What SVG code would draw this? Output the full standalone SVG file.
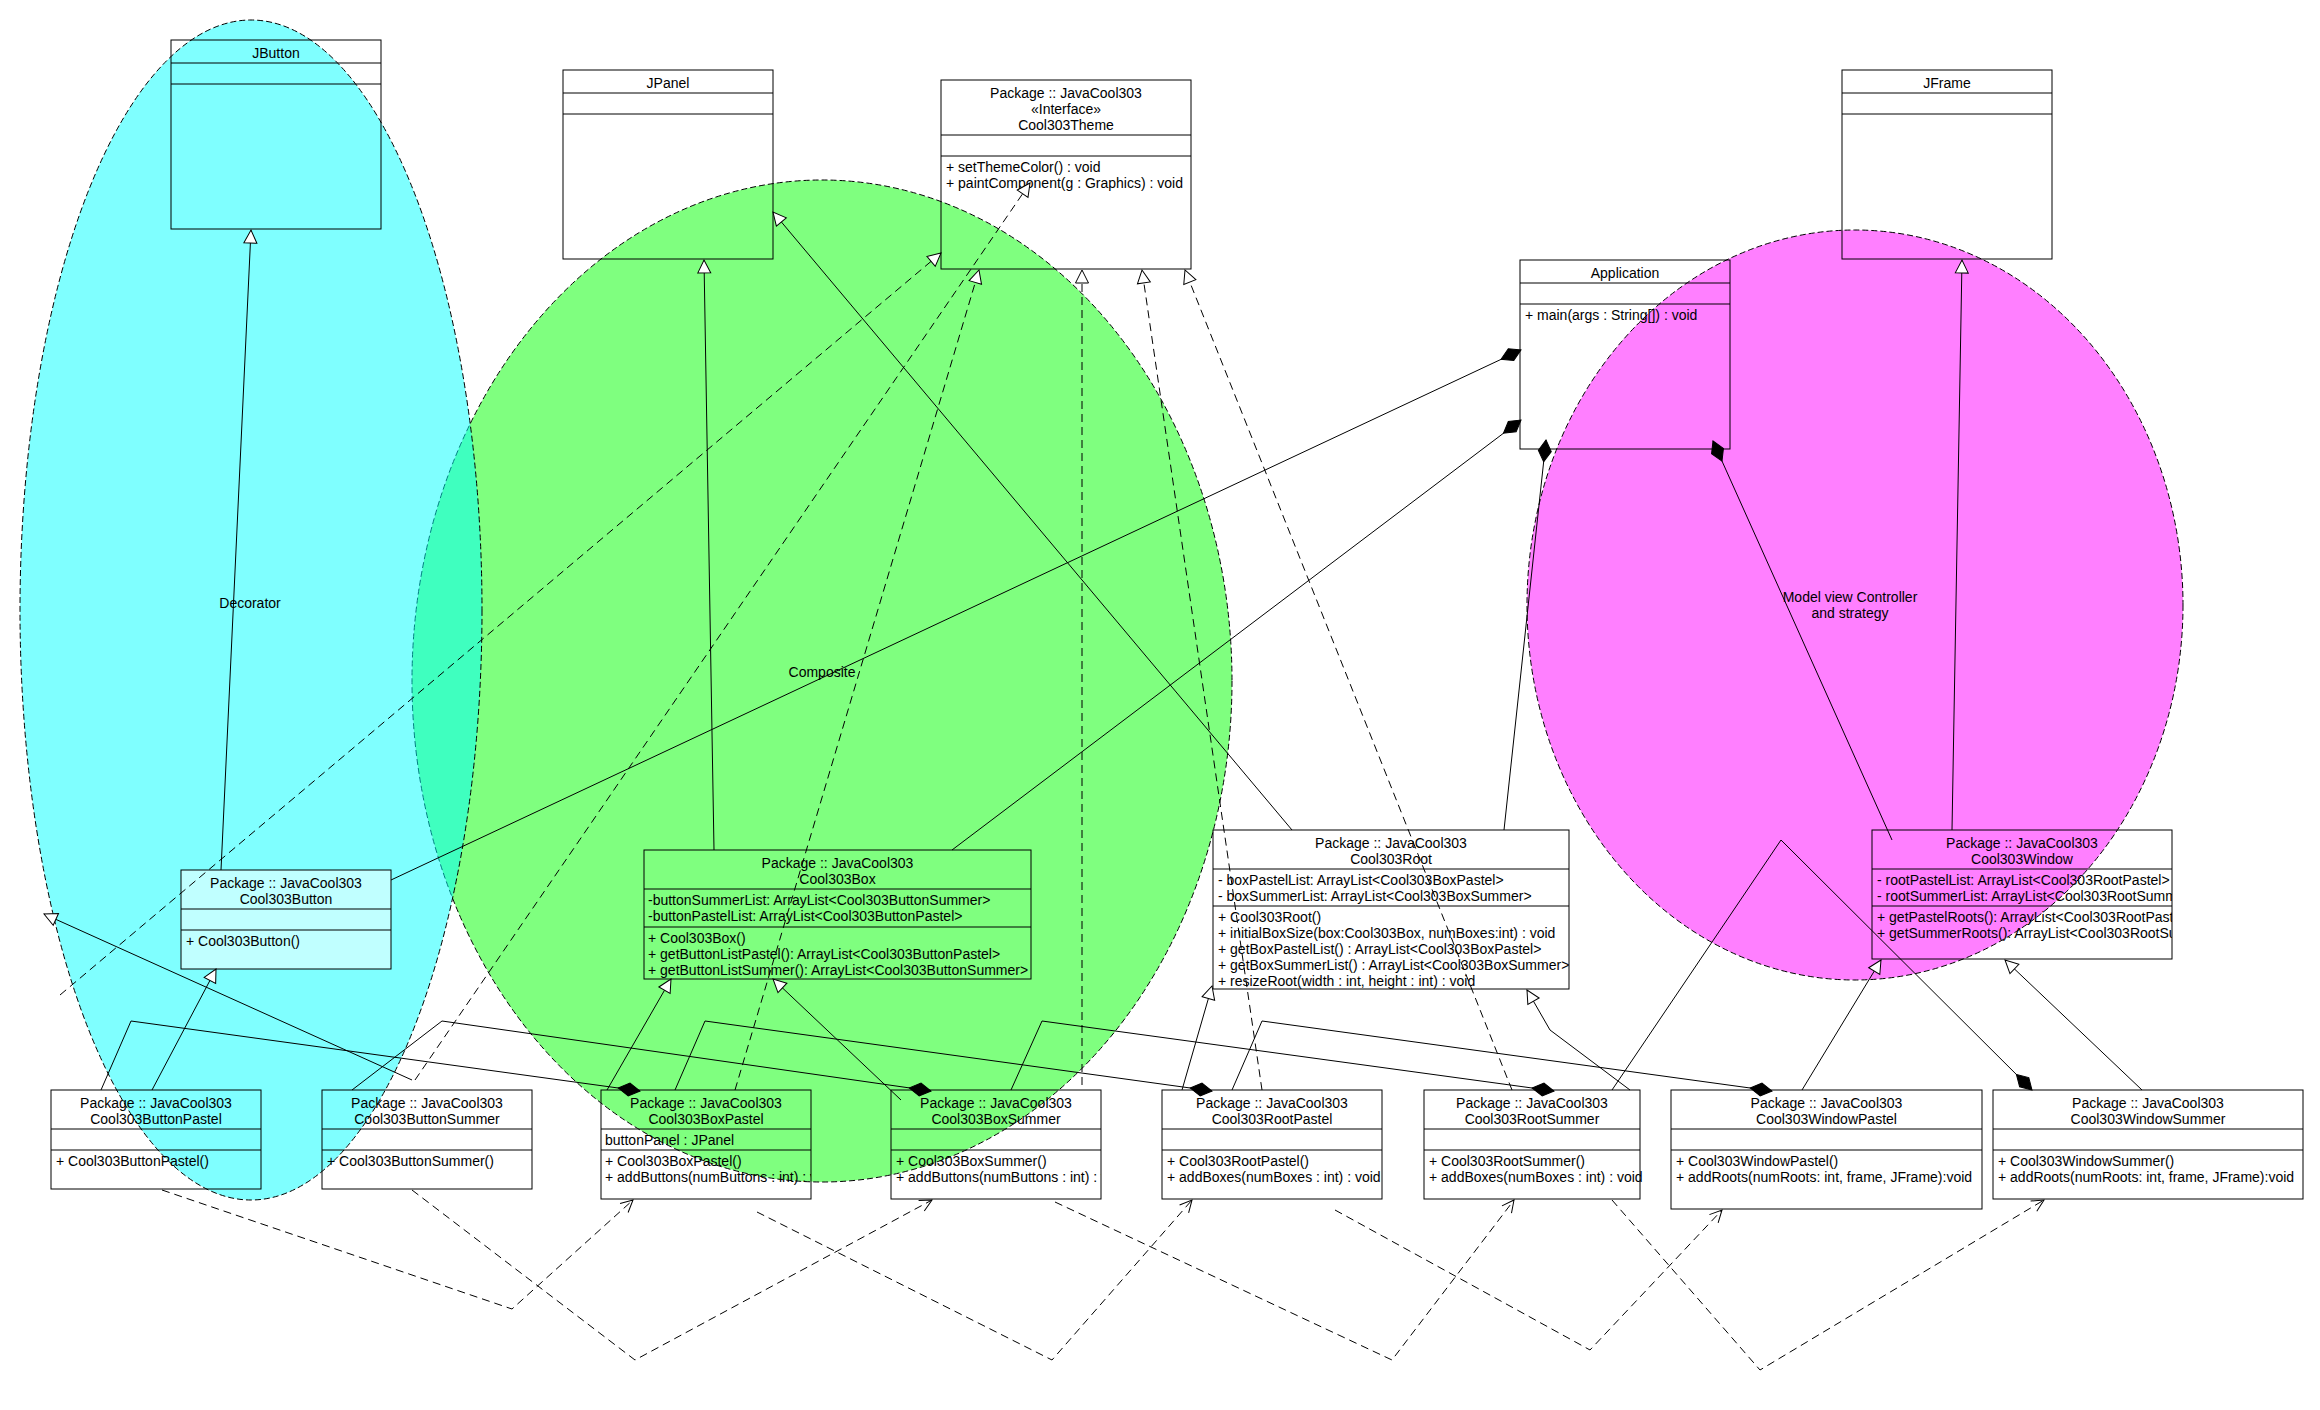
<svg xmlns="http://www.w3.org/2000/svg" width="2320" height="1410" viewBox="0 0 2320 1410">
<style>
.box{fill:none;stroke:#000;stroke-width:1}
.div{stroke:#000;stroke-width:1}
.t{font-family:"Liberation Sans",Arial,sans-serif;font-size:14px;fill:#000}
.c{text-anchor:middle}
.solid{fill:none;stroke:#000;stroke-width:1}
.dash{fill:none;stroke:#000;stroke-width:1;stroke-dasharray:8 5}
.ell{stroke:#000;stroke-width:1;stroke-dasharray:6 3;fill-opacity:0.5}
</style>
<defs>
<marker id="tri" markerUnits="userSpaceOnUse" markerWidth="14" markerHeight="14" refX="13" refY="6.5" orient="auto" overflow="visible">
<path d="M0,0 L13,6.5 L0,13 Z" fill="#fff" stroke="#000" stroke-width="1" stroke-dasharray="none"/>
</marker>
<marker id="dia" markerUnits="userSpaceOnUse" markerWidth="24" markerHeight="14" refX="22" refY="6.5" orient="auto" overflow="visible">
<path d="M0,6.5 L11,0 L22,6.5 L11,13 Z" fill="#000" stroke="#000" stroke-width="1" stroke-dasharray="none"/>
</marker>
<marker id="open" markerUnits="userSpaceOnUse" markerWidth="14" markerHeight="14" refX="12" refY="6" orient="auto" overflow="visible">
<path d="M0,0 L12,6 L0,12" fill="none" stroke="#000" stroke-width="1" stroke-dasharray="none"/>
</marker>
<clipPath id="cpBoxPastel"><rect x="601" y="1090" width="210" height="109"/></clipPath>
<clipPath id="cpBoxSummer"><rect x="891" y="1090" width="210" height="109"/></clipPath>
<clipPath id="cpWindow"><rect x="1872" y="830" width="300" height="129"/></clipPath>
<clipPath id="cpRoot"><rect x="1213" y="830" width="356" height="159"/></clipPath>
</defs>
<rect x="0" y="0" width="2320" height="1410" fill="#fff"/>
<g id="groups">
<ellipse id="composite-area" class="ell" cx="822" cy="681" rx="410" ry="501" fill="#00ff00"/>
<ellipse id="decorator-area" class="ell" cx="251" cy="610" rx="231" ry="590" fill="#00ffff"/>
<ellipse id="mvc-area" class="ell" cx="1855" cy="605" rx="328" ry="375" fill="#ff00ff"/>
</g>
<g id="n-JButton">
<rect class="box" x="171" y="40" width="210" height="189"/>
<line class="div" x1="171" y1="63" x2="381" y2="63"/><line class="div" x1="171" y1="84" x2="381" y2="84"/>
<text class="t c" x="276" y="58">JButton</text>
</g>
<g id="n-JPanel">
<rect class="box" x="563" y="70" width="210" height="189"/>
<line class="div" x1="563" y1="93" x2="773" y2="93"/><line class="div" x1="563" y1="114" x2="773" y2="114"/>
<text class="t c" x="668" y="88">JPanel</text>
</g>
<g id="n-Cool303Theme">
<rect class="box" x="941" y="80" width="250" height="189"/>
<line class="div" x1="941" y1="135" x2="1191" y2="135"/><line class="div" x1="941" y1="156" x2="1191" y2="156"/>
<text class="t c" x="1066" y="98">Package :: JavaCool303</text>
<text class="t c" x="1066" y="114">«Interface»</text>
<text class="t c" x="1066" y="130">Cool303Theme</text>
<text class="t" x="946" y="172">+ setThemeColor() : void</text>
<text class="t" x="946" y="188">+ paintComponent(g : Graphics) : void</text>
</g>
<g id="n-Application">
<rect class="box" x="1520" y="260" width="210" height="189"/>
<line class="div" x1="1520" y1="283" x2="1730" y2="283"/><line class="div" x1="1520" y1="304" x2="1730" y2="304"/>
<text class="t c" x="1625" y="278">Application</text>
<text class="t" x="1525" y="320">+ main(args : String[]) : void</text>
</g>
<g id="n-JFrame">
<rect class="box" x="1842" y="70" width="210" height="189"/>
<line class="div" x1="1842" y1="93" x2="2052" y2="93"/><line class="div" x1="1842" y1="114" x2="2052" y2="114"/>
<text class="t c" x="1947" y="88">JFrame</text>
</g>
<g id="n-Cool303Button">
<rect class="box" x="181" y="870" width="210" height="99" style="fill:#c0ffff"/>
<line class="div" x1="181" y1="909" x2="391" y2="909"/><line class="div" x1="181" y1="930" x2="391" y2="930"/>
<text class="t c" x="286" y="888">Package :: JavaCool303</text>
<text class="t c" x="286" y="904">Cool303Button</text>
<text class="t" x="186" y="946">+ Cool303Button()</text>
</g>
<g id="n-Cool303Box">
<rect class="box" x="644" y="850" width="387" height="129"/>
<line class="div" x1="644" y1="889" x2="1031" y2="889"/><line class="div" x1="644" y1="927" x2="1031" y2="927"/>
<text class="t c" x="837.5" y="868">Package :: JavaCool303</text>
<text class="t c" x="837.5" y="884">Cool303Box</text>
<text class="t" x="648" y="905">-buttonSummerList: ArrayList&lt;Cool303ButtonSummer&gt;</text>
<text class="t" x="648" y="921">-buttonPastelList: ArrayList&lt;Cool303ButtonPastel&gt;</text>
<text class="t" x="648" y="943">+ Cool303Box()</text>
<text class="t" x="648" y="959">+ getButtonListPastel(): ArrayList&lt;Cool303ButtonPastel&gt;</text>
<text class="t" x="648" y="975">+ getButtonListSummer(): ArrayList&lt;Cool303ButtonSummer&gt;</text>
</g>
<g id="n-Cool303Root">
<rect class="box" x="1213" y="830" width="356" height="159"/>
<line class="div" x1="1213" y1="869" x2="1569" y2="869"/><line class="div" x1="1213" y1="906" x2="1569" y2="906"/>
<text class="t c" x="1391" y="848">Package :: JavaCool303</text>
<text class="t c" x="1391" y="864">Cool303Root</text>
<g clip-path="url(#cpRoot)">
<text class="t" x="1218" y="885">- boxPastelList: ArrayList&lt;Cool303BoxPastel&gt;</text>
<text class="t" x="1218" y="901">- boxSummerList: ArrayList&lt;Cool303BoxSummer&gt;</text>
<text class="t" x="1218" y="922">+ Cool303Root()</text>
<text class="t" x="1218" y="938">+ initialBoxSize(box:Cool303Box, numBoxes:int) : void</text>
<text class="t" x="1218" y="954">+ getBoxPastelList() : ArrayList&lt;Cool303BoxPastel&gt;</text>
<text class="t" x="1218" y="970">+ getBoxSummerList() : ArrayList&lt;Cool303BoxSummer&gt;</text>
<text class="t" x="1218" y="986">+ resizeRoot(width : int, height : int) : void</text>
</g>
</g>
<g id="n-Cool303Window">
<rect class="box" x="1872" y="830" width="300" height="129"/>
<line class="div" x1="1872" y1="869" x2="2172" y2="869"/><line class="div" x1="1872" y1="906" x2="2172" y2="906"/>
<text class="t c" x="2022" y="848">Package :: JavaCool303</text>
<text class="t c" x="2022" y="864">Cool303Window</text>
<g clip-path="url(#cpWindow)">
<text class="t" x="1877" y="885">- rootPastelList: ArrayList&lt;Cool303RootPastel&gt;</text>
<text class="t" x="1877" y="901">- rootSummerList: ArrayList&lt;Cool303RootSummer&gt;</text>
<text class="t" x="1877" y="922">+ getPastelRoots(): ArrayList&lt;Cool303RootPastel&gt;</text>
<text class="t" x="1877" y="938">+ getSummerRoots(): ArrayList&lt;Cool303RootSummer&gt;</text>
</g>
</g>
<g id="n-Cool303ButtonPastel">
<rect class="box" x="51" y="1090" width="210" height="99"/>
<line class="div" x1="51" y1="1129" x2="261" y2="1129"/><line class="div" x1="51" y1="1150" x2="261" y2="1150"/>
<text class="t c" x="156" y="1108">Package :: JavaCool303</text>
<text class="t c" x="156" y="1124">Cool303ButtonPastel</text>
<text class="t" x="56" y="1166">+ Cool303ButtonPastel()</text>
</g>
<g id="n-Cool303ButtonSummer">
<rect class="box" x="322" y="1090" width="210" height="99"/>
<line class="div" x1="322" y1="1129" x2="532" y2="1129"/><line class="div" x1="322" y1="1150" x2="532" y2="1150"/>
<text class="t c" x="427" y="1108">Package :: JavaCool303</text>
<text class="t c" x="427" y="1124">Cool303ButtonSummer</text>
<text class="t" x="327" y="1166">+ Cool303ButtonSummer()</text>
</g>
<g id="n-Cool303BoxPastel">
<rect class="box" x="601" y="1090" width="210" height="109"/>
<line class="div" x1="601" y1="1129" x2="811" y2="1129"/><line class="div" x1="601" y1="1150" x2="811" y2="1150"/>
<text class="t c" x="706" y="1108">Package :: JavaCool303</text>
<text class="t c" x="706" y="1124">Cool303BoxPastel</text>
<g clip-path="url(#cpBoxPastel)">
<text class="t" x="605" y="1145">buttonPanel : JPanel</text>
<text class="t" x="605" y="1166">+ Cool303BoxPastel()</text>
<text class="t" x="605" y="1182">+ addButtons(numButtons : int) : void</text>
</g>
</g>
<g id="n-Cool303BoxSummer">
<rect class="box" x="891" y="1090" width="210" height="109"/>
<line class="div" x1="891" y1="1129" x2="1101" y2="1129"/><line class="div" x1="891" y1="1150" x2="1101" y2="1150"/>
<text class="t c" x="996" y="1108">Package :: JavaCool303</text>
<text class="t c" x="996" y="1124">Cool303BoxSummer</text>
<g clip-path="url(#cpBoxSummer)">
<text class="t" x="896" y="1166">+ Cool303BoxSummer()</text>
<text class="t" x="896" y="1182">+ addButtons(numButtons : int) : void</text>
</g>
</g>
<g id="n-Cool303RootPastel">
<rect class="box" x="1162" y="1090" width="220" height="109"/>
<line class="div" x1="1162" y1="1129" x2="1382" y2="1129"/><line class="div" x1="1162" y1="1150" x2="1382" y2="1150"/>
<text class="t c" x="1272" y="1108">Package :: JavaCool303</text>
<text class="t c" x="1272" y="1124">Cool303RootPastel</text>
<text class="t" x="1167" y="1166">+ Cool303RootPastel()</text>
<text class="t" x="1167" y="1182">+ addBoxes(numBoxes : int) : void</text>
</g>
<g id="n-Cool303RootSummer">
<rect class="box" x="1424" y="1090" width="216" height="109"/>
<line class="div" x1="1424" y1="1129" x2="1640" y2="1129"/><line class="div" x1="1424" y1="1150" x2="1640" y2="1150"/>
<text class="t c" x="1532" y="1108">Package :: JavaCool303</text>
<text class="t c" x="1532" y="1124">Cool303RootSummer</text>
<text class="t" x="1429" y="1166">+ Cool303RootSummer()</text>
<text class="t" x="1429" y="1182">+ addBoxes(numBoxes : int) : void</text>
</g>
<g id="n-Cool303WindowPastel">
<rect class="box" x="1671" y="1090" width="311" height="119"/>
<line class="div" x1="1671" y1="1129" x2="1982" y2="1129"/><line class="div" x1="1671" y1="1150" x2="1982" y2="1150"/>
<text class="t c" x="1826.5" y="1108">Package :: JavaCool303</text>
<text class="t c" x="1826.5" y="1124">Cool303WindowPastel</text>
<text class="t" x="1676" y="1166">+ Cool303WindowPastel()</text>
<text class="t" x="1676" y="1182">+ addRoots(numRoots: int, frame, JFrame):void</text>
</g>
<g id="n-Cool303WindowSummer">
<rect class="box" x="1993" y="1090" width="310" height="109"/>
<line class="div" x1="1993" y1="1129" x2="2303" y2="1129"/><line class="div" x1="1993" y1="1150" x2="2303" y2="1150"/>
<text class="t c" x="2148" y="1108">Package :: JavaCool303</text>
<text class="t c" x="2148" y="1124">Cool303WindowSummer</text>
<text class="t" x="1998" y="1166">+ Cool303WindowSummer()</text>
<text class="t" x="1998" y="1182">+ addRoots(numRoots: int, frame, JFrame):void</text>
</g>
<g id="connectors">
<path class="solid" marker-end="url(#tri)" d="M221,870 L251,230"/>
<path class="solid" marker-end="url(#tri)" d="M714,850 L704,260"/>
<path class="solid" marker-end="url(#tri)" d="M1292,830 L773,212"/>
<path class="solid" marker-end="url(#tri)" d="M152,1090 L216,969"/>
<path class="solid" marker-end="url(#tri)" d="M412,1080 L44,914"/>
<path class="solid" marker-end="url(#tri)" d="M607,1090 L671,979"/>
<path class="solid" marker-end="url(#tri)" d="M901,1100 L773,979"/>
<path class="solid" marker-end="url(#tri)" d="M1182,1090 L1212,986"/>
<path class="solid" marker-end="url(#tri)" d="M1630,1090 L1550,1030 L1527,990"/>
<path class="solid" marker-end="url(#tri)" d="M1802,1090 L1881,960"/>
<path class="solid" marker-end="url(#tri)" d="M2142,1090 L2005,960"/>
<path class="solid" marker-end="url(#tri)" d="M1952,830 L1962,260"/>
<path class="dash" marker-end="url(#tri)" d="M60,995 L941,253"/>
<path class="dash" marker-end="url(#tri)" d="M415,1080 L1030,183"/>
<path class="dash" marker-end="url(#tri)" d="M735,1090 L979,270"/>
<path class="dash" marker-end="url(#tri)" d="M1082,1085 L1082,270"/>
<path class="dash" marker-end="url(#tri)" d="M1262,1090 L1142,270"/>
<path class="dash" marker-end="url(#tri)" d="M1512,1090 L1185,270"/>
<path class="solid" marker-end="url(#dia)" d="M391,880 L1521,350"/>
<path class="solid" marker-end="url(#dia)" d="M952,850 L1521,420"/>
<path class="solid" marker-end="url(#dia)" d="M1504,830 L1546,440"/>
<path class="solid" marker-end="url(#dia)" d="M1892,840 L1713,441"/>
<path class="solid" marker-end="url(#dia)" d="M101,1090 L131,1021 L640,1091"/>
<path class="solid" marker-end="url(#dia)" d="M352,1090 L442,1021 L931,1091"/>
<path class="solid" marker-end="url(#dia)" d="M675,1090 L705,1021 L1212,1091"/>
<path class="solid" marker-end="url(#dia)" d="M1011,1090 L1042,1021 L1554,1091"/>
<path class="solid" marker-end="url(#dia)" d="M1232,1090 L1262,1021 L1772,1091"/>
<path class="solid" marker-end="url(#dia)" d="M1612,1090 L1781,840 L2032,1090"/>
<path class="dash" marker-end="url(#open)" d="M162,1190 L512,1309 L633,1200"/>
<path class="dash" marker-end="url(#open)" d="M412,1190 L635,1360 L932,1200"/>
<path class="dash" marker-end="url(#open)" d="M757,1212 L1052,1360 L1192,1200"/>
<path class="dash" marker-end="url(#open)" d="M1055,1202 L1392,1360 L1514,1200"/>
<path class="dash" marker-end="url(#open)" d="M1335,1210 L1590,1350 L1722,1210"/>
<path class="dash" marker-end="url(#open)" d="M1612,1200 L1760,1370 L2044,1200"/>
</g>
<g id="labels">
<text class="t c" x="250" y="608">Decorator</text>
<text class="t c" x="822" y="677">Composite</text>
<text class="t c" x="1850" y="602">Model view Controller</text>
<text class="t c" x="1850" y="618">and strategy</text>
</g>
</svg>
